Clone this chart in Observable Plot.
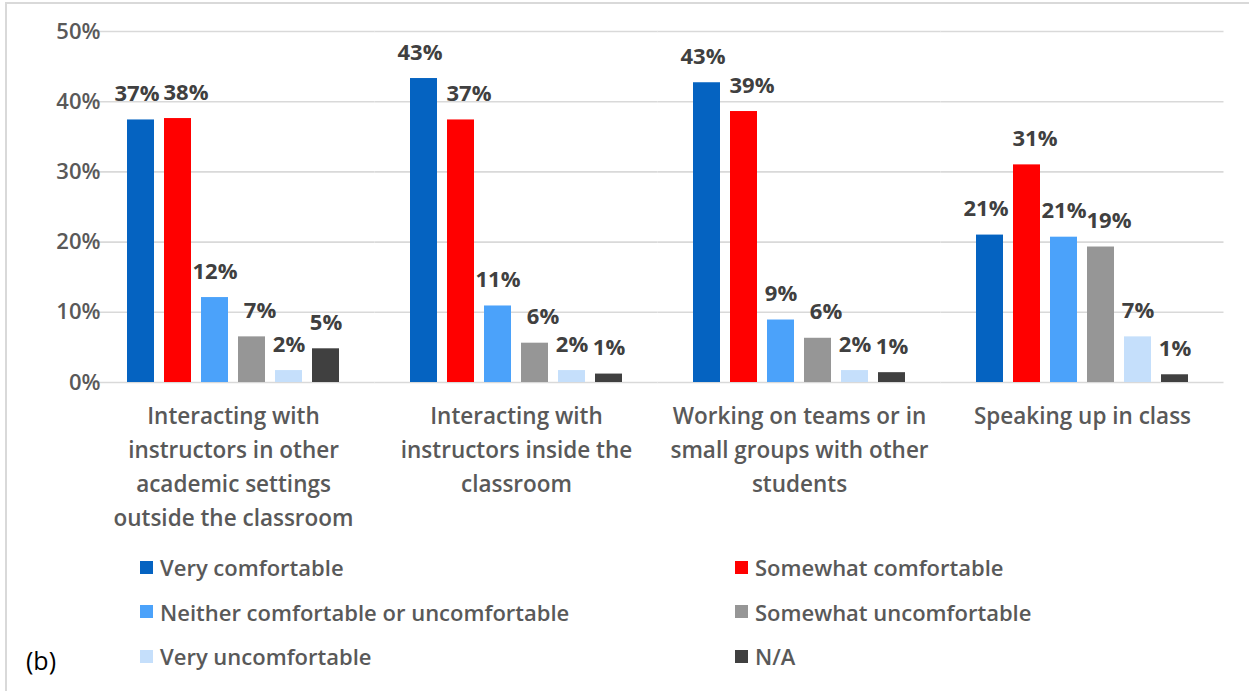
<!DOCTYPE html>
<html>
<head>
<meta charset="utf-8">
<script src="https://cdn.jsdelivr.net/npm/d3@7"></script>
<script src="https://cdn.jsdelivr.net/npm/@observablehq/plot@0.6"></script>
<style>
  html, body { margin: 0; padding: 0; background: #fff; }
  body { width: 1249px; height: 691px; position: relative; overflow: hidden; font-family: "Open Sans", sans-serif; }
  #frame { position: absolute; left: 5px; top: 2px; right: -10px; bottom: -10px; border-left: 2px solid #d9d9d9; border-top: 2px solid #d9d9d9; }
  #chart { position: absolute; left: 0; top: 0; }
  #legend { position: absolute; left: 140px; top: 545px; display: grid; grid-template-columns: 595px 420px; row-gap: 0; }
  .item { display: flex; align-items: center; height: 44.5px; font-size: 22px; font-weight: 600; color: #595959; }
  .sw { width: 13px; height: 13px; margin-right: 7px; flex: none; }
  #tag { position: absolute; left: 26px; top: 643px; font-size: 25px; color: #000; }
</style>
</head>
<body>
<div id="frame"></div>
<div id="chart"></div>
<div id="legend"></div>
<div id="tag">(b)</div>
<script>
const categories = [
  "Interacting with instructors in other academic settings outside the classroom",
  "Interacting with instructors inside the classroom",
  "Working on teams or in small groups with other students",
  "Speaking up in class"
];
const categoryLabels = [
  "Interacting with\ninstructors in other\nacademic settings\noutside the classroom",
  "Interacting with\ninstructors inside the\nclassroom",
  "Working on teams or in\nsmall groups with other\nstudents",
  "Speaking up in class"
];
const series = [
  "Very comfortable",
  "Somewhat comfortable",
  "Neither comfortable or uncomfortable",
  "Somewhat uncomfortable",
  "Very uncomfortable",
  "N/A"
];
const colors = ["#0563c1", "#ff0000", "#4ba2fa", "#969696", "#c5dffb", "#404040"];
const veryComfortable = [37.4, 43.3, 42.7, 21.0];
const somewhatComfortable = [37.6, 37.4, 38.6, 31.0];
const neither = [12.1, 10.9, 8.9, 20.7];
const somewhatUncomfortable = [6.5, 5.6, 6.3, 19.3];
const veryUncomfortable = [1.7, 1.7, 1.7, 6.5];
const notApplicable = [4.8, 1.2, 1.4, 1.1];
const yTicks = [0, 10, 20, 30, 40, 50];

// horizontal nudge of each series' value labels (as the reference's labels sit)
const labelNudge = [-4, 8, 0, 8, 0, 0];

const seriesValues = [veryComfortable, somewhatComfortable, neither, somewhatUncomfortable, veryUncomfortable, notApplicable];
const data = [];
categories.forEach((c, i) => series.forEach((s, j) => data.push({category: c, series: s, value: seriesValues[j][i]})));
const labelOf = new Map(categories.map((c, i) => [c, categoryLabels[i]]));

const labelMarks = series.map((s, j) =>
  Plot.text(data.filter(d => d.series === s), {
    fx: "category", x: "series", y: "value",
    text: d => Math.round(d.value) + "%",
    dy: -26, dx: labelNudge[j],
    fontSize: 22, fontWeight: 700, fill: "#404040"
  })
);

const chart = Plot.plot({
  width: 1249,
  height: 540,
  marginLeft: 90,
  marginRight: 24,
  marginTop: 31,
  marginBottom: 158,
  style: {fontFamily: "'Open Sans', sans-serif", background: "transparent"},
  fx: {domain: categories, paddingInner: 0.236, paddingOuter: 0.118, label: null},
  x: {domain: series, paddingInner: 0.257, paddingOuter: 0, axis: null},
  y: {domain: [0, 50], label: null},
  color: {domain: series, range: colors},
  marks: [
    Plot.gridY(yTicks, {stroke: "#d9d9d9", strokeOpacity: 1, strokeWidth: 1.6, insetLeft: -33.5, insetRight: -33.5}),
    Plot.axisY(yTicks, {tickSize: 0, tickPadding: 25, tickFormat: d => d + "%", fontSize: 22, fontWeight: 600, fill: "#595959", label: null}),
    Plot.axisFx({anchor: "bottom", tickSize: 0, tickPadding: 17, tickFormat: d => labelOf.get(d), fontSize: 22.5, fontWeight: 600, fill: "#595959", lineHeight: 1.51, label: null}),
    Plot.barY(data, {fx: "category", x: "series", y: "value", fill: "series"}),
    ...labelMarks
  ]
});
document.getElementById("chart").appendChild(chart);

const legend = document.getElementById("legend");
series.forEach((s, i) => {
  const item = document.createElement("div");
  item.className = "item";
  const sw = document.createElement("span");
  sw.className = "sw";
  sw.style.background = colors[i];
  const t = document.createElement("span");
  t.textContent = s;
  item.appendChild(sw);
  item.appendChild(t);
  legend.appendChild(item);
});
</script>
</body>
</html>
